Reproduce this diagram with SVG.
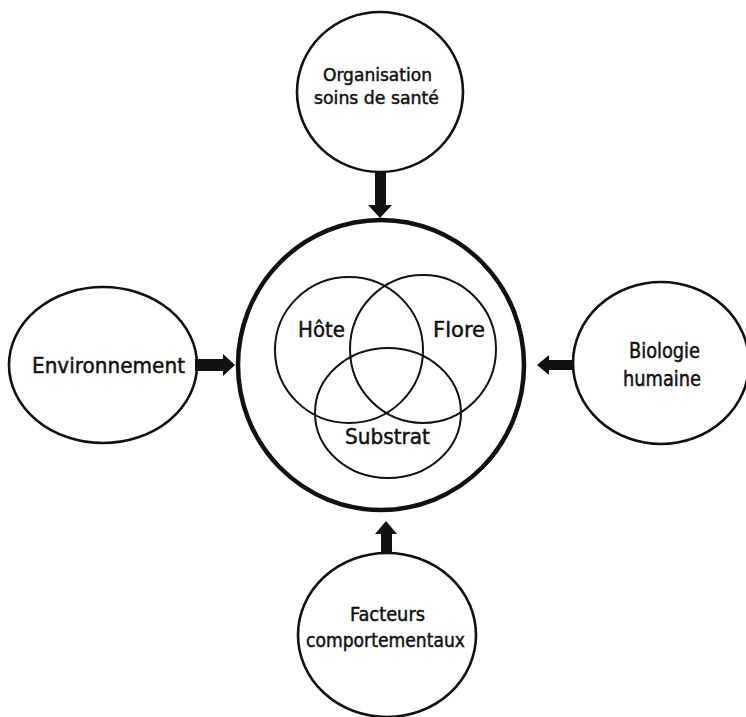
<svg xmlns="http://www.w3.org/2000/svg" width="746" height="717" viewBox="0 0 746 717">
  <defs>
    <style>
      .node { fill: #ffffff; stroke: #111111; stroke-width: 2.6; }
      .core { fill: #ffffff; stroke: #111111; stroke-width: 4.5; }
      .venn { fill: none; stroke: #111111; stroke-width: 2; }
      .lbl { font-family: "DejaVu Sans Condensed", "DejaVu Sans", sans-serif; fill: #111111; stroke: #111111; stroke-width: 0.45; }
      .arrow { fill: #111111; stroke: none; }
    </style>
  </defs>
  <rect width="746" height="717" fill="#ffffff"/>

  <!-- central circle with the three-way Venn diagram -->
  <g id="core">
    <ellipse class="core" cx="381" cy="365" rx="143" ry="145"/>
    <ellipse class="venn" cx="349" cy="350" rx="74" ry="73"/>
    <ellipse class="venn" cx="423" cy="349" rx="73" ry="74"/>
    <ellipse class="venn" cx="388" cy="413" rx="73" ry="65"/>
    <text class="lbl" x="298" y="337" font-size="21" textLength="47" lengthAdjust="spacingAndGlyphs">Hôte</text>
    <text class="lbl" x="433" y="337" font-size="21" textLength="52" lengthAdjust="spacingAndGlyphs">Flore</text>
    <text class="lbl" x="345" y="444" font-size="21" textLength="85" lengthAdjust="spacingAndGlyphs">Substrat</text>
  </g>

  <g id="organisation">
    <ellipse class="node" cx="380" cy="92" rx="83" ry="80"/>
    <text class="lbl" x="323" y="81" font-size="18" textLength="109" lengthAdjust="spacingAndGlyphs">Organisation</text>
    <text class="lbl" x="314" y="104" font-size="18" textLength="125" lengthAdjust="spacingAndGlyphs">soins de santé</text>
  </g>

  <g id="environnement">
    <ellipse class="node" cx="103" cy="365" rx="94" ry="78"/>
    <text class="lbl" x="32" y="373" font-size="21" textLength="153" lengthAdjust="spacingAndGlyphs">Environnement</text>
  </g>

  <g id="biologie">
    <ellipse class="node" cx="661" cy="363" rx="88" ry="81"/>
    <text class="lbl" x="629" y="358" font-size="21" textLength="71" lengthAdjust="spacingAndGlyphs">Biologie</text>
    <text class="lbl" x="623" y="386" font-size="21" textLength="78" lengthAdjust="spacingAndGlyphs">humaine</text>
  </g>

  <g id="facteurs">
    <ellipse class="node" cx="387" cy="635" rx="89" ry="82"/>
    <text class="lbl" x="350" y="621" font-size="19" textLength="75" lengthAdjust="spacingAndGlyphs">Facteurs</text>
    <text class="lbl" x="306" y="647" font-size="19" textLength="159" lengthAdjust="spacingAndGlyphs">comportementaux</text>
  </g>

  <!-- block arrows pointing into the central circle -->
  <g id="connectors">
    <polygon class="arrow" points="375,172 386,172 386,205 392,205 380,218 368,205 375,205"/>
    <polygon class="arrow" points="195,359 195,371 223,371 223,376 235,365 223,354 223,359"/>
    <polygon class="arrow" points="574,360 574,370 549,370 549,375 537,365 549,355 549,360"/>
    <polygon class="arrow" points="381,554 392,554 392,534 397,534 386,521 375,534 381,534"/>
  </g>
</svg>
